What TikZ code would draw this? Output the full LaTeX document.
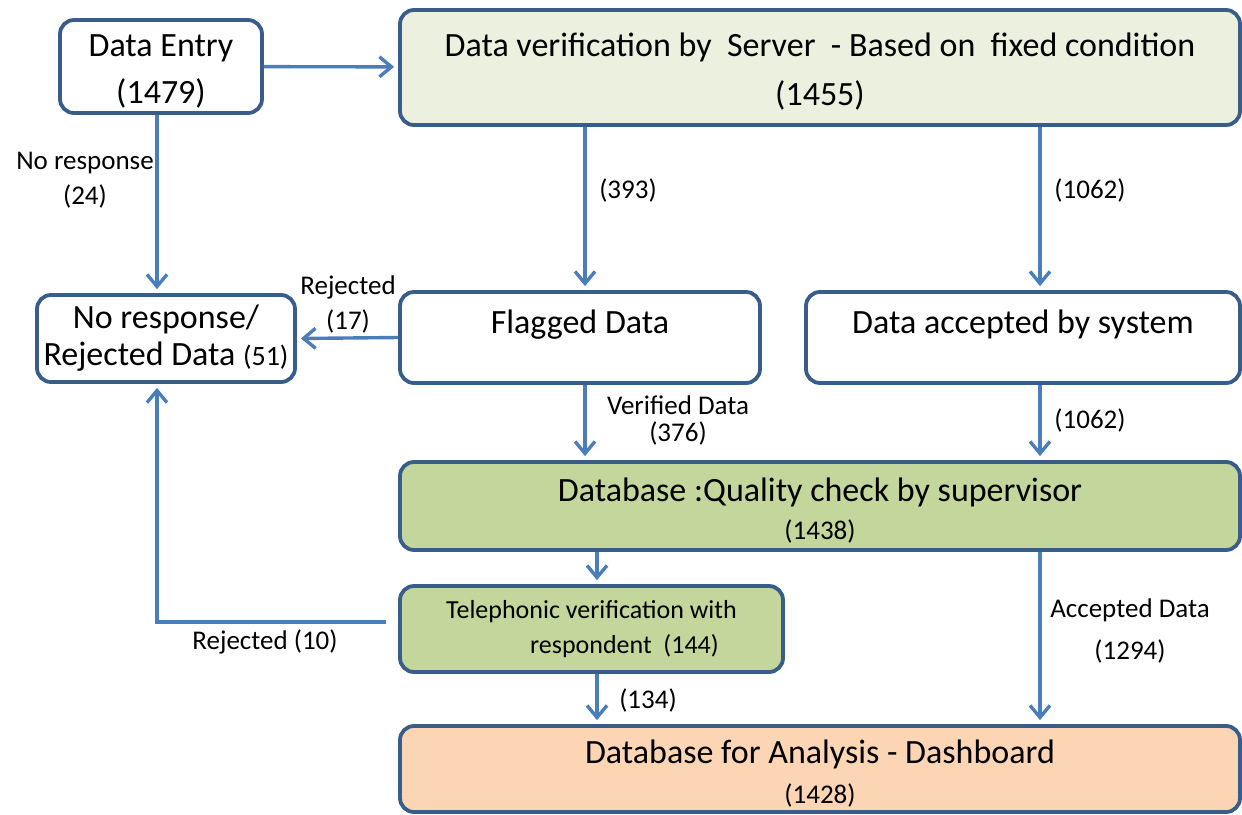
\documentclass[tikz,border=0pt]{standalone}
\usepackage{fontspec}
\setmainfont{Carlito}
\usetikzlibrary{arrows.meta}
\definecolor{boxline}{HTML}{385D8A}
\definecolor{flowline}{HTML}{4A7EBB}
\definecolor{serverfill}{HTML}{EBF1DE}
\definecolor{checkfill}{HTML}{C3D69B}
\definecolor{dashfill}{HTML}{FCD5B5}
\newcommand{\bigtxt}[1]{\fontsize{17}{#1}\selectfont}
\newcommand{\smalltxt}[1]{\fontsize{13.5}{#1}\selectfont}
\newcommand{\topgap}{\rule{0pt}{16pt}}

\begin{document}
\begin{tikzpicture}[x=0.5pt,y=-0.5pt,
	box/.style={draw=boxline,line width=1.9pt,rounded corners=7pt,fill=white,align=center,inner sep=0pt},
	flow/.style={draw=flowline,line width=1.7pt,-{Straight Barb[length=6pt,width=10pt]},shorten >=2pt},
	lbl/.style={align=center,inner sep=0pt}]
	\useasboundingbox (0,0) rectangle (1242,814);
	\coordinate (colA) at (157,0);
	\coordinate (colB) at (585,0);
	\coordinate (colC) at (597,0);
	\coordinate (colD) at (1040,0);
	\node[box,minimum width=101pt,minimum height=46.5pt,font=\bigtxt{23.5pt}] (entry) at (161,66.5) {\topgap Data Entry\\(1479)};
	\node[box,fill=serverfill,minimum width=420pt,minimum height=57.5pt,font=\bigtxt{24.5pt}] (server) at (820,67.5) {\topgap Data verification\ by\ \ Server\ \ - Based on\ \ fixed condition\\(1455)};
	\node[box,minimum width=129pt,minimum height=43.5pt,font=\bigtxt{18.5pt}] (reject) at (166,338.5) {No response/\\Rejected Data {\fontsize{14}{18.5pt}\selectfont(51)}};
	\node[box,minimum width=180pt,minimum height=45.5pt,font=\bigtxt{15.5pt}] (flagged) at (580,337.5) {Flagged Data\\\mbox{}};
	\node[box,minimum width=217pt,minimum height=45.5pt,font=\bigtxt{15.5pt}] (accepted) at (1023,337.5) {Data accepted by system\\\mbox{}};
	\node[box,fill=checkfill,minimum width=420pt,minimum height=44pt,font=\bigtxt{19pt}] (quality) at (820,506) {\topgap Database :Quality\ check by supervisor\\{\smalltxt{19pt}(1438)}};
	\node[box,fill=checkfill,minimum width=191.5pt,minimum height=43pt,font=\fontsize{13}{17.5pt}\selectfont] (phone) at (591.5,629) {Telephonic verification with\\\hspace*{33pt}respondent\ \ (144)};
	\node[box,fill=dashfill,minimum width=420pt,minimum height=43pt,font=\bigtxt{20pt}] (dash) at (820,769) {\topgap Database for Analysis\ - Dashboard\\{\smalltxt{20pt}(1428)}};
	\draw[flow] (entry) -- (server);
	\draw[flow] (entry.south -| colA) -- (reject.north -| colA);
	\draw[flow] (server.south -| colB) -- (flagged.north -| colB);
	\draw[flow] (server.south -| colD) -- (accepted.north -| colD);
	\draw[flow] (flagged.west) -- (reject.east);
	\draw[flow] (flagged.south -| colB) -- (quality.north -| colB);
	\draw[flow] (accepted.south -| colD) -- (quality.north -| colD);
	\draw[flow] (quality.south -| colC) -- (phone.north -| colC);
	\draw[flow] (quality.south -| colD) -- (dash.north -| colD);
	\draw[flow] (phone.south -| colC) -- (dash.north -| colC);
	\draw[flow] ([yshift=3.5pt,xshift=-6pt]phone.west) -| (reject.south -| colA);
	\node[lbl,font=\smalltxt{17.5pt}] (l24) at (85,180) {No response\\(24)};
	\node[lbl,font=\smalltxt{17.5pt}] (l393) at (628,190) {(393)};
	\node[lbl,font=\smalltxt{17.5pt}] (l1062a) at (1090,190) {(1062)};
	\node[lbl,font=\smalltxt{17.5pt}] (l17) at (348,304.5) {Rejected\\(17)};
	\node[lbl,font=\smalltxt{13.5pt}] (l376) at (678,420.5) {Verified Data\\(376)};
	\node[lbl,font=\smalltxt{17.5pt}] (l1062b) at (1090,420) {(1062)};
	\node[lbl,font=\smalltxt{21pt}] (l1294) at (1130,631) {Accepted Data\\(1294)};
	\node[lbl,font=\smalltxt{17.5pt}] (l134) at (648,700) {(134)};
	\node[lbl,font=\smalltxt{17.5pt}] (l10) at (265,642) {Rejected (10)};
\end{tikzpicture}
\end{document}
